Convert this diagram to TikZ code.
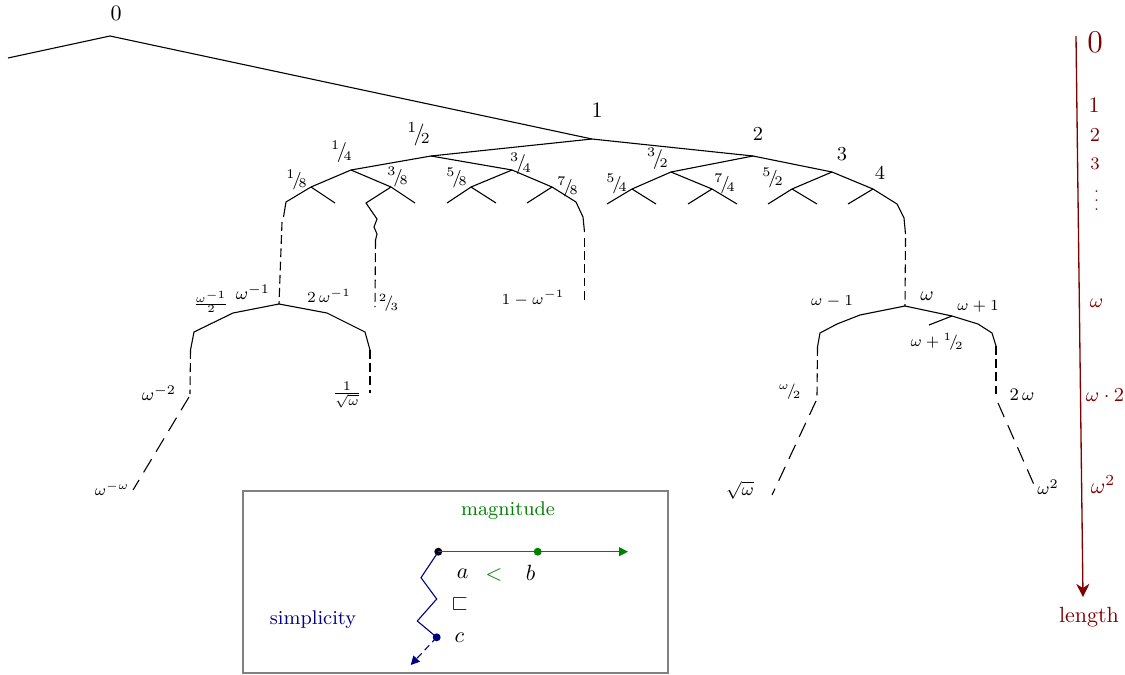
\documentclass[tikz,border=0pt]{standalone}
\usepackage{amssymb}
\usetikzlibrary{arrows.meta}
\newcommand\sfr[2]{{}^{#1}\!/\!{}_{#2}}
\definecolor{axisred}{rgb}{0.5,0,0}
\definecolor{mygreen}{rgb}{0,0.5,0}
\definecolor{mynavy}{rgb}{0,0,0.5}
\begin{document}
\begin{tikzpicture}[x=0.4545pt,y=-0.4545pt,
  edge/.style={line width=0.5pt},
  dsh/.style={line width=0.5pt,dash pattern=on 4pt off 2pt},
  dshl/.style={line width=0.5pt,dash pattern=on 7pt off 4pt},
  lab/.style={inner sep=0pt},
  dotp/.style={circle,inner sep=0pt,minimum size=3.6pt}]
\useasboundingbox (0,0) rectangle (1125,675);
% tree vertices
\coordinate (l0) at (8,58);
\coordinate (n0) at (110,36);
\coordinate (n1) at (592,139);
\coordinate (nh) at (431,156);
\coordinate (n2) at (753,156);
\coordinate (nq) at (351,170);
\coordinate (n34) at (512,170);
\coordinate (n32) at (671,172);
\coordinate (n3) at (832,172);
\coordinate (n18) at (311,187);
\coordinate (n38) at (391,187);
\coordinate (n58) at (471,187);
\coordinate (n78) at (552,187);
\coordinate (n54) at (632,189);
\coordinate (n74) at (712,189);
\coordinate (n52) at (792,189);
\coordinate (n4) at (873,189);
\coordinate (wm1) at (279,304);
\coordinate (tt) at (375,307);
\coordinate (omw) at (584.5,304);
\coordinate (om) at (905,306);
\coordinate (wm2) at (190,394);
\coordinate (wmw) at (133,490);
\coordinate (rsw) at (370,393);
\coordinate (om2) at (817,396);
\coordinate (sqw) at (772,495);
\coordinate (op1) at (952,316);
\coordinate (oph) at (929,325);
\coordinate (tw) at (996,395);
\coordinate (wsq) at (1035,487);
% main edges
\draw[edge] (l0) -- (n0) -- (n1);
\draw[edge] (n1) -- (nh); \draw[edge] (n1) -- (n2);
\draw[edge] (nh) -- (nq); \draw[edge] (nh) -- (n34);
\draw[edge] (n2) -- (n32); \draw[edge] (n2) -- (n3);
\draw[edge] (nq) -- (n18); \draw[edge] (nq) -- (n38);
\draw[edge] (n34) -- (n58); \draw[edge] (n34) -- (n78);
\draw[edge] (n32) -- (n54); \draw[edge] (n32) -- (n74);
\draw[edge] (n3) -- (n52); \draw[edge] (n3) -- (n4);
% short leaves
\draw[edge] (n18) -- (335,203);
\draw[edge] (n38) -- (415,203);
\draw[edge] (n58) -- (447,203); \draw[edge] (n58) -- (496,203);
\draw[edge] (n78) -- (527,203);
\draw[edge] (n54) -- (607,204); \draw[edge] (n54) -- (656,204);
\draw[edge] (n74) -- (688,204); \draw[edge] (n74) -- (737,204);
\draw[edge] (n52) -- (768,204); \draw[edge] (n52) -- (817,204);
\draw[edge] (n4) -- (848,204);
% long branches
\draw[edge] (n18) -- (286,202) -- (283.5,217);
\draw[dsh] (282,222) -- (wm1);
\draw[edge] (n38) -- (366,203) -- (377,219) -- (374,227) -- (377,234) -- (375.5,240);
\draw[dsh] (375.5,240) -- (tt);
\draw[edge] (n78) -- (576,202) -- (583,217) -- (584.5,232);
\draw[dsh] (584.5,238) -- (omw);
\draw[edge] (n4) -- (897,204) -- (904,218) -- (905.5,234);
\draw[dsh] (905.5,238) -- (om);
% omega^{-1} subtree
\draw[edge] (wm1) -- (233,313) -- (194,332) -- (190.5,350);
\draw[dsh] (190.5,350) -- (wm2);
\draw[dshl] (189,397) -- (wmw);
\draw[edge] (wm1) -- (327,313) -- (365,332) -- (370,350);
\draw[dsh] (370,350) -- (rsw);
% omega subtree
\draw[edge] (om) -- (860,315) -- (837,324) -- (820,333) -- (817.5,347);
\draw[dsh] (817.5,347) -- (om2);
\draw[dshl] (816,401) -- (sqw);
\draw[edge] (om) -- (op1) -- (978,324) -- (992,333) -- (996,346);
\draw[edge] (op1) -- (oph);
\draw[dsh] (996,346) -- (tw);
\draw[dshl] (998,403) -- (wsq);
% labels
\node[lab] (t0) at (116,13) {$0$};
\node[lab] (t1) at (597,110) {$1$};
\node[lab] (th) at (419,134) {$\sfr12$};
\node[lab,font=\small] (t2) at (758,134) {$2$};
\node[lab,font=\small] (tq) at (342,152) {$\sfr14$};
\node[lab,font=\small] (t34) at (521,164) {$\sfr34$};
\node[lab,font=\small] (t32) at (658,159) {$\sfr32$};
\node[lab,font=\small] (t3) at (842,154) {$3$};
\node[lab,font=\footnotesize] (t18) at (297,180) {$\sfr18$};
\node[lab,font=\footnotesize] (t38) at (398,177) {$\sfr38$};
\node[lab,font=\footnotesize] (t58) at (457,178) {$\sfr58$};
\node[lab,font=\footnotesize] (t78) at (568,187) {$\sfr78$};
\node[lab,font=\footnotesize] (t54) at (617,184) {$\sfr54$};
\node[lab,font=\footnotesize] (t74) at (725,184) {$\sfr74$};
\node[lab,font=\footnotesize] (t52) at (773,178) {$\sfr52$};
\node[lab,font=\small] (t4) at (880,173) {$4$};
\node[lab,font=\footnotesize] (twm1) at (253,292) {$\omega^{-1}$};
\node[lab,font=\scriptsize] (ttwm1) at (329,296) {$2\,\omega^{-1}$};
\node[lab,font=\scriptsize] (ttt) at (389,303) {$\sfr23$};
\node[lab,font=\scriptsize] (tomw) at (533,298) {$1-\omega^{-1}$};
\node[lab,font=\tiny] (thwm) at (211,302) {$\frac{\omega^{-1}}{2}$};
\node[lab,font=\footnotesize] (twm2) at (159,393) {$\omega^{-2}$};
\node[lab,font=\footnotesize] (trsw) at (347,395) {$\frac{1}{\sqrt{\omega}}$};
\node[lab,font=\scriptsize] (twmw) at (112,489) {$\omega^{-\omega}$};
\node[lab,font=\scriptsize] (tom1) at (832,301) {$\omega-1$};
\node[lab,font=\small] (tom) at (927,296) {$\omega$};
\node[lab,font=\scriptsize] (top1) at (978,306) {$\omega+1$};
\node[lab,font=\scriptsize] (toph) at (937,342) {$\omega+\sfr12$};
\node[lab,font=\scriptsize] (tom2) at (790,392) {$\sfr{\omega}{2}$};
\node[lab,font=\footnotesize] (ttw) at (1022,395) {$2\,\omega$};
\node[lab,font=\footnotesize] (tsqw) at (740,490) {$\sqrt{\omega}$};
\node[lab,font=\footnotesize] (twsq) at (1048,487) {$\omega^2$};
% length axis
\coordinate (ax0) at (1076,36);
\coordinate (ax1) at (1083,597);
\draw[axisred,line width=0.6pt,-{Stealth[length=6pt,width=6pt]}] (ax0) -- (ax1);
\node[lab,text=axisred,font=\Large] (a0) at (1095,42) {$0$};
\node[lab,text=axisred] (a1) at (1094,105) {$1$};
\node[lab,text=axisred,font=\small] (a2) at (1095,135) {$2$};
\node[lab,text=axisred,font=\footnotesize] (a3) at (1095,164) {$3$};
\node[lab,text=axisred,font=\scriptsize] (adots) at (1096.5,194) {$\vdots$};
\node[lab,text=axisred,font=\small] (aw) at (1096.5,303) {$\omega$};
\node[lab,text=axisred,font=\small] (aw2) at (1105,395) {$\omega\cdot2$};
\node[lab,text=axisred] (awsq) at (1103,485) {$\omega^2$};
\node[lab,text=axisred] (alen) at (1089,617) {length};
% legend
\draw[gray,line width=0.5pt] (243,491) rectangle (668,673);
\node[lab,text=mygreen,font=\small] (mag) at (508,511) {magnitude};
\node[lab,text=mynavy,font=\small] (simp) at (313,620) {simplicity};
\node[dotp,fill=black] (da) at (438.3,551.7) {};
\node[dotp,fill=mygreen] (db) at (537.7,551.7) {};
\node[dotp,fill=mynavy] (dc) at (436.7,637.3) {};
\coordinate (gend) at (628,551.7);
\coordinate (cend) at (410.7,665);
\draw[mygreen,line width=0.5pt,-{Triangle[length=4pt,width=4pt]}] (da.center) -- (db.center) -- (gend);
\draw[mynavy,line width=0.5pt] (da.center) -- (421,577.7) -- (436.7,599) -- (417.3,621) -- (dc.center);
\draw[mynavy,line width=0.5pt,dash pattern=on 3pt off 2pt,-{Triangle[length=4pt,width=4pt]}] (dc.center) -- (cend);
\node[lab] (ta) at (462.7,573.3) {$a$};
\node[lab,text=mygreen] (tlt) at (494,575) {$<$};
\node[lab] (tb) at (530.7,573.3) {$b$};
\node[lab,text=mynavy] (tsq) at (460,604.3) {$\sqsubset$};
\node[lab] (tc) at (459.3,637.7) {$c$};
\end{tikzpicture}
\end{document}
